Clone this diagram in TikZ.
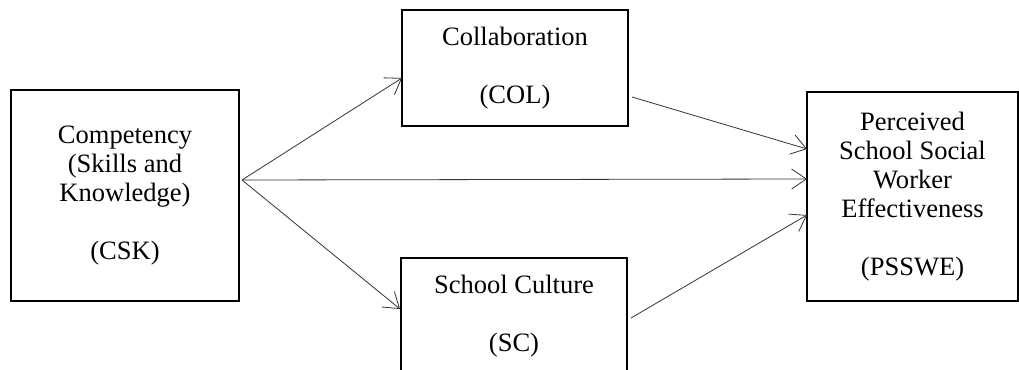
\documentclass[tikz,border=0pt]{standalone}
\usepackage{fontspec}
\setmainfont{Liberation Serif}
\usetikzlibrary{arrows.meta}
\begin{document}
\begin{tikzpicture}[x=0.75pt,y=-0.75pt,
  box/.style={draw, line width=1.5pt, inner sep=0pt, align=center,
    font=\fontsize{19.9}{21.75}\selectfont},
  arr/.style={draw=black!80, line width=0.6pt,
    -{Straight Barb[length=11pt,width=15pt]}}]
\useasboundingbox (0,0) rectangle (1019,370);

% construct boxes
\node[box, minimum width=171pt, minimum height=158.25pt] (csk) at (125,195.5)
  {Competency\\(Skills and\\Knowledge)\\~\\(CSK)};
\node[box, minimum width=169.5pt, minimum height=87pt] (col) at (515,68)
  {Collaboration\\~\\(COL)};
\node[box, minimum width=169.5pt, minimum height=87pt] (sc) at (514,316)
  {School Culture\\~\\(SC)};
\node[box, minimum width=158.25pt, minimum height=156.75pt] (psswe) at (912.5,196.5)
  {Perceived\\School Social\\Worker\\Effectiveness\\~\\(PSSWE)};

% arrow end points on the box sides
\coordinate (hub) at (242,180);
\coordinate (colin) at (402,78);
\coordinate (scin) at (400,309);
\coordinate (colout) at (632,97);
\coordinate (scout) at (631,318);
\coordinate (pin1) at (807,149);
\coordinate (pin2) at (807,179);
\coordinate (pin3) at (807,215);

% paths
\draw[arr] (hub) -- (colin);
\draw[arr] (hub) -- (pin2);
\draw[arr] (hub) -- (scin);
\draw[arr] (colout) -- (pin1);
\draw[arr] (scout) -- (pin3);
\end{tikzpicture}
\end{document}
